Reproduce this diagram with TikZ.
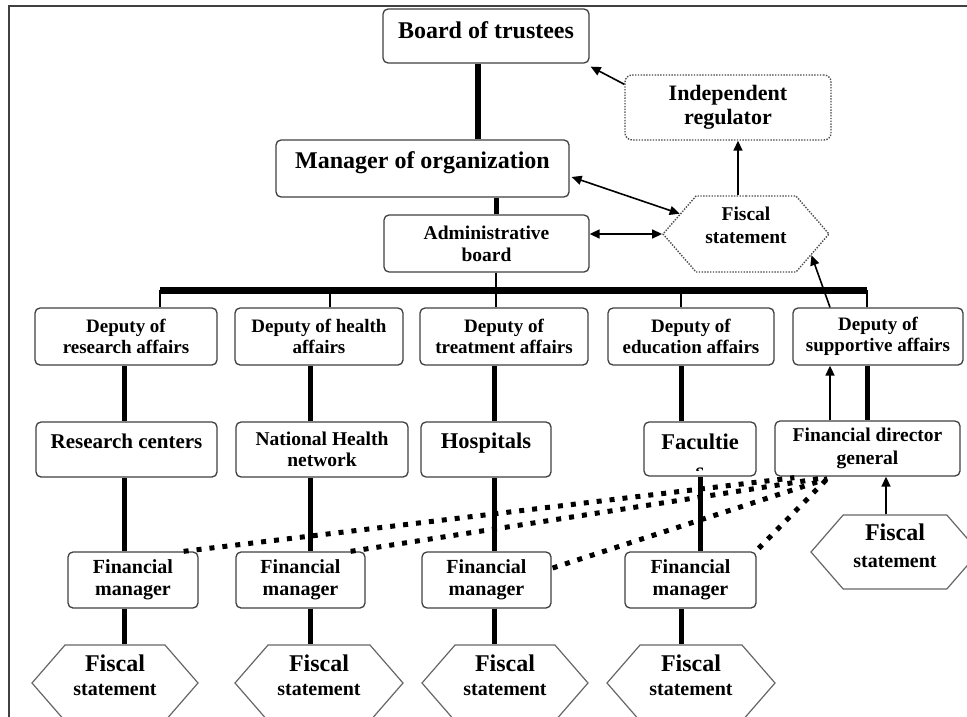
\documentclass[tikz,border=0pt]{standalone}
\usepackage{fontspec}
\setmainfont{Liberation Serif}
\usetikzlibrary{arrows.meta,shapes.symbols,calc}
\begin{document}
\begin{tikzpicture}[x=1pt,y=-1pt,
  boxbase/.style={draw=black!75, line width=1.3pt, rounded corners=5pt, fill=white, inner sep=0pt},
  box1/.style={boxbase},
  box/.style={boxbase, align=center},
  dotbox/.style={draw=black!70, line width=1.4pt, dash pattern=on 1.4pt off 1.4pt, rounded corners=7pt, fill=white, inner sep=0pt, align=center},
  hexa/.style={shape=signal, signal to=east and west, signal pointer angle=98, draw=black!60, line width=1.2pt, inner sep=0pt, fill=white},
  hexdot/.style={hexa, draw=black!70, line width=1.4pt, dash pattern=on 1.4pt off 1.4pt},
  htext/.style={inner sep=0pt, align=center},
  fsz/.style 2 args={font=\bfseries\fontsize{#1}{#2}\selectfont},
  thickline/.style={line width=5pt},
  bus/.style={line width=7pt},
  thinline/.style={line width=1.8pt},
  arr/.style={line width=1.6pt, -{Triangle[length=10pt,width=9pt]}},
  darr/.style={line width=1.6pt, {Triangle[length=10pt,width=9pt]}-{Triangle[length=10pt,width=9pt]}},
  dots/.style={line width=5pt, dash pattern=on 5pt off 8pt},
  frame/.style={draw=black!75, line width=1.5pt}
]
\useasboundingbox (0,0) rectangle (967,717);
\draw[frame] (969,6) -- (9,6) -- (9,719);

% top part
\node[box1, fsz={24}{26}, minimum width=206pt, minimum height=54pt, text height=16pt, text depth=10pt] (board) at (486,36) {Board of trustees};
\node[dotbox, fsz={22}{24}, minimum width=206pt, minimum height=65pt] (reg) at (728,107.5) {Independent\\regulator};
\node[box1, fsz={24}{26}, minimum width=293pt, minimum height=57pt, text height=14pt, text depth=14pt] (mgr) at (422.5,168.5) {Manager of organization};
\node[box, fsz={19.5}{22}, minimum width=205pt, minimum height=57pt] (admin) at (486.5,243.5) {Administrative\\board};
\node[hexdot, minimum width=166pt, minimum height=76pt] (fsT) at (746,234) {};
\node[htext, fsz={19.5}{23}] (fsTt) at (746,225) {Fiscal\\statement};

% deputies
\node[box, fsz={19}{20.5}, minimum width=182pt, minimum height=57pt] (dep1) at (126,336.5) {Deputy of\\research affairs};
\node[box, fsz={19}{20.5}, minimum width=168pt, minimum height=57pt] (dep2) at (319,336.5) {Deputy of health\\affairs};
\node[box, fsz={19}{20.5}, minimum width=168pt, minimum height=57pt] (dep3) at (504,336.5) {Deputy of\\treatment affairs};
\node[box, fsz={19}{20.5}, minimum width=166pt, minimum height=57pt] (dep4) at (691,336.5) {Deputy of\\education affairs};
\node[box, fsz={19}{20.5}, minimum width=170pt, minimum height=57pt] (dep5) at (878,336.5) {Deputy of\\supportive affairs};

% second row
\node[box1, fsz={21}{23}, minimum width=181pt, minimum height=55pt, text height=13pt, text depth=16pt] (rc) at (126.5,449.5) {Research centers};
\node[box, fsz={19.5}{21}, minimum width=172pt, minimum height=55pt] (nhn) at (322,449.5) {National Health\\network};
\node[box1, fsz={22.5}{24}, minimum width=130pt, minimum height=55pt, text height=13pt, text depth=16pt] (hosp) at (486,449.5) {Hospitals};
\node[box1, fsz={22.5}{24}, minimum width=112pt, minimum height=54pt, text height=14pt, text depth=14pt] (fac) at (700,449) {Facultie};
\begin{scope}
  \clip (646,462) rectangle (754,470);
  \node[htext, fsz={22.5}{24}] (facs) at (700,473) {s};
\end{scope}
\node[box, fsz={19.5}{23}, minimum width=185pt, minimum height=55pt] (fd) at (867.5,448.5) {Financial director\\general};

% financial managers
\node[box, fsz={20}{22}, minimum width=130pt, minimum height=56pt] (fm1) at (133,580) {Financial\\manager};
\node[box, fsz={20}{22}, minimum width=129pt, minimum height=56pt] (fm2) at (300.5,580) {Financial\\manager};
\node[box, fsz={20}{22}, minimum width=129pt, minimum height=56pt] (fm3) at (486.5,580) {Financial\\manager};
\node[box, fsz={20}{22}, minimum width=131pt, minimum height=56pt] (fm4) at (690.5,580) {Financial\\manager};

% fiscal statements
\node[hexa, minimum width=166pt, minimum height=76pt] (hx1) at (115,683) {};
\node[hexa, minimum width=168pt, minimum height=76pt] (hx2) at (319,683) {};
\node[hexa, minimum width=166pt, minimum height=76pt] (hx3) at (505,683) {};
\node[hexa, minimum width=168pt, minimum height=76pt] (hx4) at (691,683) {};
\node[hexa, minimum width=168pt, minimum height=74pt] (hx5) at (895,552) {};
\node[htext, fsz={20}{24}] (hxt1) at (115,675) {{\fontsize{24}{24}\selectfont Fiscal}\\statement};
\node[htext, fsz={20}{24}] (hxt2) at (319,675) {{\fontsize{24}{24}\selectfont Fiscal}\\statement};
\node[htext, fsz={20}{24}] (hxt3) at (505,675) {{\fontsize{24}{24}\selectfont Fiscal}\\statement};
\node[htext, fsz={20}{24}] (hxt4) at (691,675) {{\fontsize{24}{24}\selectfont Fiscal}\\statement};
\node[htext, fsz={20}{24}] (hxt5) at (895,545.5) {{\fontsize{24}{24}\selectfont Fiscal}\\[3pt]statement};

% helper coordinates
\coordinate (busy) at (0,290);
\coordinate (xA) at (478,0);
\coordinate (xB) at (496,0);
\coordinate (xL) at (160,0);
\coordinate (xH) at (330,0);
\coordinate (xE) at (681,0);
\coordinate (xR) at (867,0);
\coordinate (c1) at (124,0);
\coordinate (c2) at (310,0);
\coordinate (c3) at (494.5,0);
\coordinate (c4) at (700,0);
\coordinate (xS) at (830,0);
\coordinate (xG) at (738,0);
\coordinate (xF) at (886,0);

% hierarchy lines
\draw[line width=6pt] (board.south -| xA) -- (mgr.north -| xA);
\draw[thickline] (mgr.south -| xB) -- (admin.north -| xB);
\draw[thinline] (admin.south -| xB) -- (dep3.north -| xB);
\draw[bus] (busy -| xL) -- (busy -| xR);
\draw[thinline] (busy -| xL) -- (dep1.north -| xL);
\draw[thinline] (busy -| xH) -- (dep2.north -| xH);
\draw[thinline] (busy -| xE) -- (dep4.north -| xE);
\draw[thinline] (busy -| xR) -- (dep5.north -| xR);

\draw[thickline] (dep1.south -| c1) -- (rc.north -| c1);
\draw[thickline] (rc.south -| c1) -- (fm1.north -| c1);
\draw[thickline] (fm1.south -| c1) -- (hx1.north -| c1);
\draw[thickline] (dep2.south -| c2) -- (nhn.north -| c2);
\draw[thickline] (nhn.south -| c2) -- (fm2.north -| c2);
\draw[thickline] (fm2.south -| c2) -- (hx2.north -| c2);
\draw[thickline] (dep3.south -| c3) -- (hosp.north -| c3);
\draw[thickline] (hosp.south -| c3) -- (fm3.north -| c3);
\draw[thickline] (fm3.south -| c3) -- (hx3.north -| c3);
\draw[thickline] (dep4.south -| xE) -- (fac.north -| xE);
\draw[thickline] (fac.south -| c4) -- (fm4.north -| c4);
\draw[thickline] (fm4.south -| xE) -- (hx4.north -| xE);
\draw[thickline] (dep5.south -| xR) -- (fd.north -| xR);

% arrows
\draw[arr] (fd.north -| xS) -- (dep5.south -| xS);
\draw[arr] (hx5.north -| xF) -- (fd.south -| xF);
\draw[arr] (dep5.north -| xS) -- (fsT.-18);
\draw[arr] (fsT.north -| xG) -- (reg.south -| xG);
\draw[arr] ($(reg.north west)+(0,10)$) -- ($(board.south east)+(1,3)$);
\draw[darr] ($(mgr.east)+(2,8.5)$) -- (fsT.163);
\draw[darr] (admin.east |- fsT.west) -- (fsT.west);

% dotted reporting lines
\draw[dots] ($(fm1.north east)+(-15,0)$) -- ($(fd.south west)+(20,1)$);
\draw[dots] ($(fm2.north east)+(-15,0)$) -- ($(fd.south west)+(51,1)$);
\draw[dots] ($(fm3.east)+(1,-12)$) -- ($(fd.south west)+(53,2)$);
\draw[dots] ($(fm4.north east)+(2,-3)$) -- ($(fd.south west)+(52,3)$);
\end{tikzpicture}
\end{document}
